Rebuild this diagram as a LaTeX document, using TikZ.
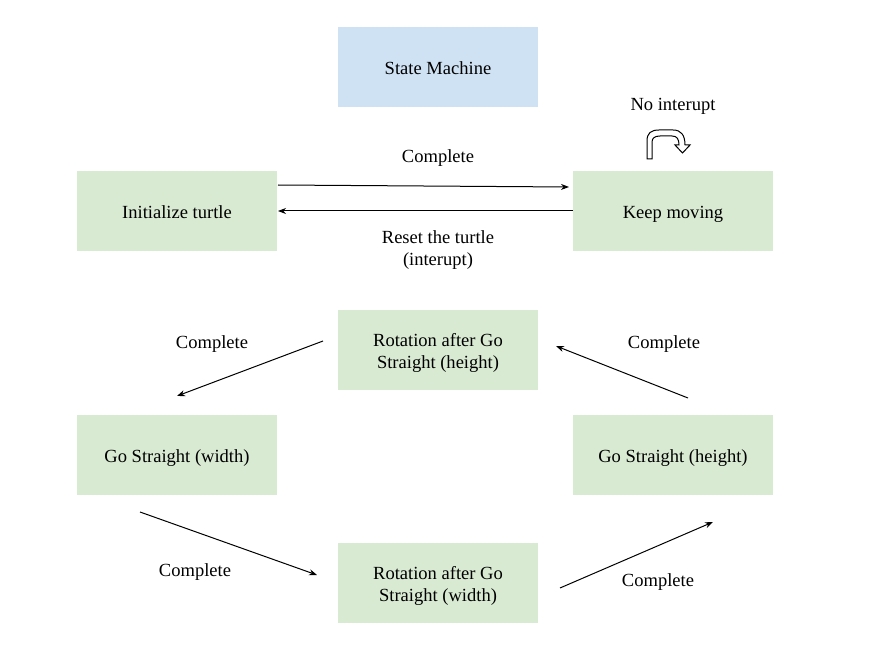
\documentclass[tikz,border=0pt]{standalone}
\usepackage{fontspec}
\setmainfont{Liberation Serif}
\usetikzlibrary{arrows.meta}
\definecolor{boxgreen}{HTML}{D9EAD3}
\definecolor{boxblue}{HTML}{CFE2F3}
\newcommand\onelinetext[2][5.3pt]{\raisebox{-#1}[6pt][6pt]{#2}}
\newcommand\twolinetext[3][13.8pt]{\raisebox{-#1}[6pt][6pt]{\begin{tabular}[b]{@{}c@{}}#2\\#3\end{tabular}}}
\begin{document}
\begin{tikzpicture}[x=0.75pt,y=-0.75pt,
  statebox/.style={fill=boxgreen,draw=none,minimum width=150pt,minimum height=60pt,inner sep=0pt,align=center,font=\fontsize{13.9}{16.5}\selectfont},
  titlebox/.style={statebox,fill=boxblue},
  lbl/.style={align=center,inner sep=0pt,font=\fontsize{13.9}{16.5}\selectfont},
  conn/.style={draw=black,line width=0.75pt,-{Stealth[length=6pt,width=4.5pt]}}]
\useasboundingbox (0,0) rectangle (876,656);
\fill[white] (0,0) rectangle (876,656);
\node[titlebox] (sm) at (438,67.5) {\onelinetext[5.6pt]{State Machine}};
\node[statebox] (init) at (177,211) {\onelinetext{Initialize turtle}};
\node[statebox] (keep) at (673,211) {\onelinetext{Keep moving}};
\node[statebox] (roth) at (438,350.5) {\twolinetext{Rotation after Go}{Straight (height)}};
\node[statebox] (gsw) at (177,455) {\onelinetext{Go Straight (width)}};
\node[statebox] (gsh) at (673,455) {\onelinetext{Go Straight (height)}};
\node[statebox] (rotw) at (438,583) {\twolinetext[13.6pt]{Rotation after Go}{Straight (width)}};
% connector end points
\coordinate (a1s) at (278,185); \coordinate (a1e) at (569,187);
\coordinate (a2s) at (573,211); \coordinate (a2e) at (278,211);
\coordinate (a3s) at (323,341); \coordinate (a3e) at (177,396);
\coordinate (a4s) at (688,398); \coordinate (a4e) at (556,346);
\coordinate (a5s) at (140,512); \coordinate (a5e) at (317,575);
\coordinate (a6s) at (560,588); \coordinate (a6e) at (713,522);
\draw[conn] (a1s) -- (a1e);
\draw[conn] (a2s) -- (a2e);
\draw[conn] (a3s) -- (a3e);
\draw[conn] (a4s) -- (a4e);
\draw[conn] (a5s) -- (a5e);
\draw[conn] (a6s) -- (a6e);
\node[lbl] (l1) at (438,158) {Complete};
\node[lbl] (l2) at (438,250.5) {Reset the turtle\\(interupt)};
\node[lbl] (l3) at (673,106) {No interupt};
\node[lbl] (l4) at (212,344) {Complete};
\node[lbl] (l5) at (664,344) {Complete};
\node[lbl] (l6) at (195,572) {Complete};
\node[lbl] (l7) at (658,582) {Complete};
% U-turn arrow icon
\draw[line width=0.75pt,fill=white,line join=miter] (647,159) -- (647,141) .. controls (647,133) and (651,130) .. (659,130) -- (673,130) .. controls (681,130) and (685,135) .. (685,145) -- (690,145) -- (682.5,153) -- (675,145) -- (679,145) .. controls (679,139) and (677,136) .. (672,136) -- (660,136) .. controls (655,136) and (652,138) .. (652,142) -- (652,159) -- cycle;
\end{tikzpicture}
\end{document}
